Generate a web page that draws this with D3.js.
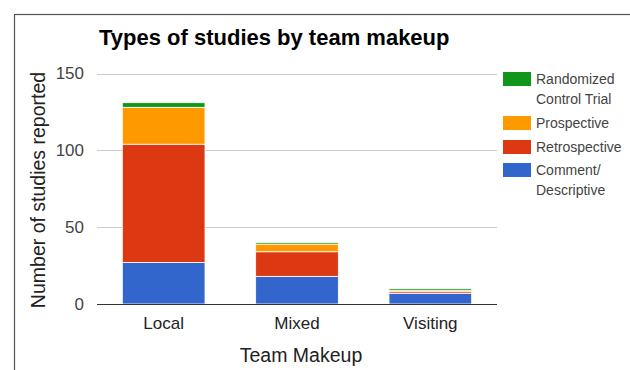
<!DOCTYPE html>
<html lang="en">
<head>
  <meta charset="UTF-8">
  <title>Types of studies by team makeup</title>
  <script src="https://d3js.org/d3.v7.min.js"></script>
  <style>
    body { margin: 0; background: #fff; }
    svg text { font-family: Arial, "Liberation Sans", sans-serif; }
    .grid line { stroke: #ccc; stroke-width: 1px; }
  </style>
</head>
<body>
<svg width="630" height="370"></svg>
<script>
  // data
  const teams = ["Local", "Mixed", "Visiting"];
  const studyTypes = ["Comment/Descriptive", "Retrospective", "Prospective", "Randomized Control Trial"];
  const descriptive = [27, 18, 7];
  const retrospective = [77, 16, 1];
  const prospective = [24, 5, 1];
  const rct = [3, 1, 1];
  const yTicks = [0, 50, 100, 150];

  const colors = ["#3366cc", "#dc3912", "#ff9900", "#109618"];
  // legend is listed top to bottom, reverse of stacking order
  const legendLines = [
    ["Randomized", "Control Trial"],
    ["Prospective"],
    ["Retrospective"],
    ["Comment/", "Descriptive"]
  ];

  const rows = teams.map((t, i) => ({
    team: t,
    "Comment/Descriptive": descriptive[i],
    "Retrospective": retrospective[i],
    "Prospective": prospective[i],
    "Randomized Control Trial": rct[i]
  }));

  const svg = d3.select("svg");

  // outer frame (runs off the right and bottom edges)
  svg.append("rect")
    .attr("x", 14.5).attr("y", 14.5)
    .attr("width", 640).attr("height", 380)
    .attr("fill", "none")
    .attr("stroke", "#555")
    .attr("stroke-width", 1.2);

  const plotLeft = 97, plotRight = 497, plotTop = 73.5, plotBottom = 304;

  const x = d3.scaleBand().domain(teams).range([plotLeft, plotRight]).paddingInner(0.38).paddingOuter(0.19);
  const y = d3.scaleLinear().domain([0, 150]).range([plotBottom, plotTop]);

  // gridlines
  svg.append("g")
    .attr("class", "grid")
    .selectAll("line")
    .data(yTicks.filter(d => d > 0))
    .join("line")
    .attr("x1", plotLeft).attr("x2", plotRight)
    .attr("y1", d => Math.round(y(d)) + 0.5)
    .attr("y2", d => Math.round(y(d)) + 0.5);

  // y tick labels
  const yAxis = svg.append("g")
    .attr("transform", `translate(${plotLeft},0)`)
    .call(d3.axisLeft(y).tickValues(yTicks).tickSize(0).tickPadding(13));
  yAxis.select(".domain").remove();
  yAxis.selectAll("text")
    .attr("fill", "#444")
    .style("font-size", "17px");

  // stacked bars
  const stack = d3.stack().keys(studyTypes)(rows);
  svg.append("g")
    .selectAll("g")
    .data(stack)
    .join("g")
    .attr("fill", (d, i) => colors[i])
    .selectAll("rect")
    .data(d => d)
    .join("rect")
    .attr("x", d => x(d.data.team))
    .attr("width", x.bandwidth())
    .attr("y", d => y(d[1]))
    .attr("height", d => y(d[0]) - y(d[1]))
    .attr("stroke", "#fff")
    .attr("stroke-width", 0.8);

  // baseline
  svg.append("line")
    .attr("x1", plotLeft).attr("x2", plotRight)
    .attr("y1", plotBottom + 0.5).attr("y2", plotBottom + 0.5)
    .attr("stroke", "#333")
    .attr("stroke-width", 1.2);

  // x axis labels
  const xAxis = svg.append("g")
    .attr("transform", `translate(0,${plotBottom})`)
    .call(d3.axisBottom(x).tickSize(0).tickPadding(13));
  xAxis.select(".domain").remove();
  xAxis.selectAll("text")
    .attr("fill", "#222")
    .style("font-size", "17px");

  // axis titles
  svg.append("text")
    .attr("x", 301)
    .attr("y", 362)
    .attr("text-anchor", "middle")
    .attr("fill", "#222")
    .style("font-size", "19.5px")
    .text("Team Makeup");

  svg.append("text")
    .attr("transform", "translate(45,190) rotate(-90)")
    .attr("text-anchor", "middle")
    .attr("fill", "#222")
    .style("font-size", "19.5px")
    .text("Number of studies reported");

  // title
  svg.append("text")
    .attr("x", 99)
    .attr("y", 45)
    .attr("font-weight", "bold")
    .attr("fill", "#000")
    .style("font-size", "22px")
    .text("Types of studies by team makeup");

  // legend
  const legendY = [72, 116, 140, 163];
  const legend = svg.append("g")
    .selectAll("g")
    .data(legendLines)
    .join("g")
    .attr("transform", (d, i) => `translate(503,${legendY[i]})`);

  legend.append("rect")
    .attr("width", 28).attr("height", 14)
    .attr("fill", (d, i) => colors[colors.length - 1 - i]);

  legend.append("text")
    .attr("x", 33)
    .attr("fill", "#444")
    .style("font-size", "14px")
    .selectAll("tspan")
    .data(d => d)
    .join("tspan")
    .attr("x", 33)
    .attr("y", (d, j) => 12 + j * 20)
    .text(d => d);
</script>
</body>
</html>
